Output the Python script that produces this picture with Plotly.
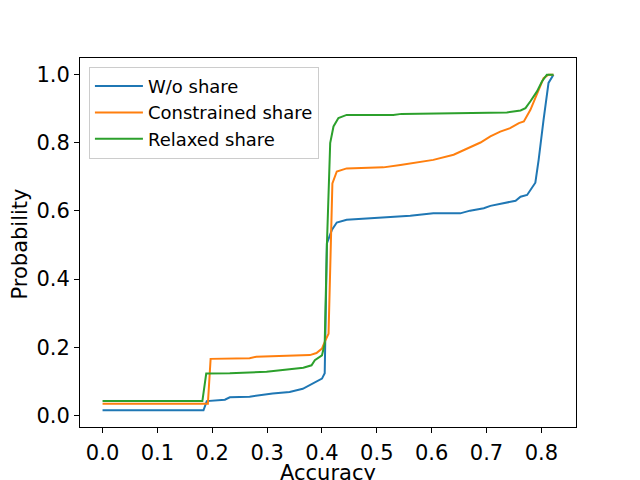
import plotly.graph_objects as go

# values (accuracy -> cumulative probability)
wo_x = [0, 0.184, 0.19, 0.223, 0.232, 0.268, 0.31, 0.341, 0.365, 0.384, 0.4, 0.405, 0.407,
        0.409, 0.418, 0.427, 0.445, 0.482, 0.524, 0.561, 0.603, 0.652, 0.67, 0.695, 0.707,
        0.731, 0.753, 0.762, 0.774, 0.789, 0.795, 0.804, 0.813, 0.822]
wo_y = [0.015, 0.015, 0.042, 0.046, 0.053, 0.055, 0.064, 0.069, 0.078, 0.093, 0.108, 0.124, 0.30,
        0.505, 0.544, 0.566, 0.574, 0.578, 0.583, 0.586, 0.593, 0.593, 0.601, 0.608, 0.615,
        0.623, 0.63, 0.642, 0.647, 0.683, 0.75, 0.868, 0.976, 1.0]

con_x = [0, 0.192, 0.197, 0.268, 0.28, 0.34, 0.378, 0.39, 0.4, 0.405, 0.412, 0.419, 0.427,
         0.445, 0.512, 0.543, 0.603, 0.64, 0.658, 0.67, 0.689, 0.707, 0.725, 0.743, 0.759,
         0.768, 0.78, 0.792, 0.804, 0.813, 0.822]
con_y = [0.034, 0.034, 0.166, 0.168, 0.172, 0.174, 0.177, 0.183, 0.196, 0.216, 0.24, 0.681, 0.716,
         0.725, 0.728, 0.735, 0.75, 0.765, 0.777, 0.787, 0.801, 0.819, 0.833, 0.843, 0.858,
         0.863, 0.897, 0.946, 0.99, 1.0, 1.0]

rel_x = [0, 0.182, 0.189, 0.232, 0.299, 0.329, 0.366, 0.381, 0.387, 0.4, 0.405, 0.409, 0.415,
         0.421, 0.43, 0.445, 0.482, 0.53, 0.545, 0.616, 0.737, 0.762, 0.771, 0.78, 0.792,
         0.801, 0.81, 0.822]
rel_y = [0.042, 0.042, 0.123, 0.124, 0.128, 0.134, 0.14, 0.147, 0.162, 0.176, 0.211, 0.5, 0.799,
         0.848, 0.873, 0.882, 0.882, 0.882, 0.885, 0.887, 0.889, 0.895, 0.902, 0.922, 0.951,
         0.98, 1.0, 1.0]

series = [
    ('W/o share', wo_x, wo_y, '#1f77b4'),
    ('Constrained share', con_x, con_y, '#ff7f0e'),
    ('Relaxed share', rel_x, rel_y, '#2ca02c'),
]

fig = go.Figure()
for name, xs, ys, color in series:
    fig.add_trace(go.Scatter(x=xs, y=ys, mode='lines', name=name,
                             line=dict(color=color, width=2)))

axis_style = dict(
    showgrid=False,
    zeroline=False,
    showline=True,
    linecolor='black',
    linewidth=1,
    mirror=True,
    ticks='outside',
    ticklen=5,
    tickwidth=1,
    tickcolor='black',
    tickfont=dict(size=21, color='black'),
    automargin=False,
)

# the page body adds an 8px offset, so margins are trimmed by 8 on the left/top
fig.update_layout(
    width=640,
    height=480,
    font=dict(family='DejaVu Sans', color='black'),
    paper_bgcolor='white',
    plot_bgcolor='white',
    margin=dict(l=72, r=72, t=50, b=61),
    xaxis=dict(axis_style, range=[-0.0411, 0.8631], dtick=0.1, tickformat='.1f',
               ticklabelstandoff=2),
    yaxis=dict(axis_style, range=[-0.034, 1.049], dtick=0.2, tickformat='.1f'),
    showlegend=True,
    legend=dict(
        x=0.018, y=0.976, xanchor='left', yanchor='top',
        font=dict(size=18, color='black'),
        bgcolor='rgba(255,255,255,0.8)',
        bordercolor='#cccccc',
        borderwidth=1,
        itemwidth=48,
    ),
)

# axis titles as annotations so they sit where the reference has them
fig.add_annotation(text='Accuracy', xref='paper', yref='paper', x=0.5, y=0,
                   xanchor='center', yanchor='top', yshift=-32, showarrow=False,
                   font=dict(size=21, color='black'))
fig.add_annotation(text='Probability', xref='paper', yref='paper', x=0, y=0.5,
                   xanchor='right', yanchor='middle', xshift=-47, yshift=-2,
                   textangle=-90, showarrow=False, font=dict(size=21, color='black'))

fig.write_html('out.html')
